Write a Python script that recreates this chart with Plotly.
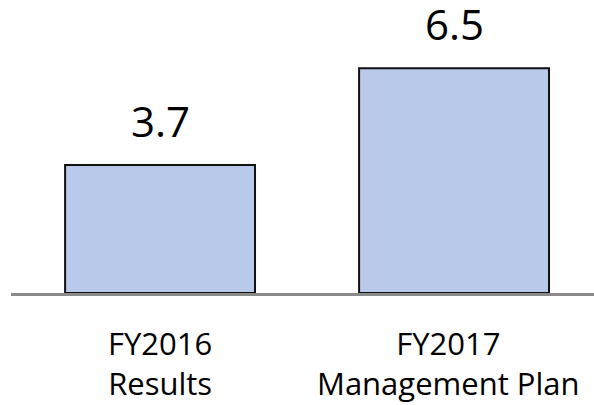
import plotly.graph_objects as go

categories = ["FY2016", "FY2017"]
category_labels = ["FY2016<br>Results", "FY2017<br>Management Plan"]
values = [3.7, 6.5]
value_labels = ["3.7", "6.5"]

BAR_COLOR = "#b9c9ea"
FONT = "Open Sans"
# the long second label is nudged left so it stays on the slide
LABEL_XSHIFT = [0, -6]

fig = go.Figure()
fig.add_trace(
    go.Bar(
        x=categories,
        y=values,
        marker=dict(color=BAR_COLOR, line=dict(color="#111111", width=2)),
        hoverinfo="skip",
    )
)

for cat, val, lab in zip(categories, values, value_labels):
    fig.add_annotation(
        x=cat, y=val, text=lab, showarrow=False,
        yanchor="bottom", yshift=14,
        font=dict(family=FONT, size=42, color="#000000"),
    )

for cat, lab, dx in zip(categories, category_labels, LABEL_XSHIFT):
    fig.add_annotation(
        x=cat, y=0, yref="paper", text=lab, showarrow=False,
        yanchor="top", yshift=-27, xshift=dx,
        font=dict(family=FONT, size=31, color="#000000"),
    )

fig.update_layout(
    width=594,
    height=405,
    margin=dict(l=11, r=0, t=0, b=112),
    plot_bgcolor="white",
    paper_bgcolor="white",
    showlegend=False,
    bargap=0.354,
    font=dict(family=FONT, color="#000000"),
)
fig.update_xaxes(
    range=[-0.507, 1.476],
    showline=True, linecolor="#8a8a8a", linewidth=2.5,
    showgrid=False, ticks="", showticklabels=False, automargin=False,
)
fig.update_yaxes(range=[0, 8.47], visible=False, showgrid=False,
                 zeroline=False, automargin=False)

# drop the browser's default 8px body margin so the figure sits at the page corner
fig.write_html(
    "out.html",
    config={"displayModeBar": False},
    post_script="document.body.style.margin='0px';",
)
